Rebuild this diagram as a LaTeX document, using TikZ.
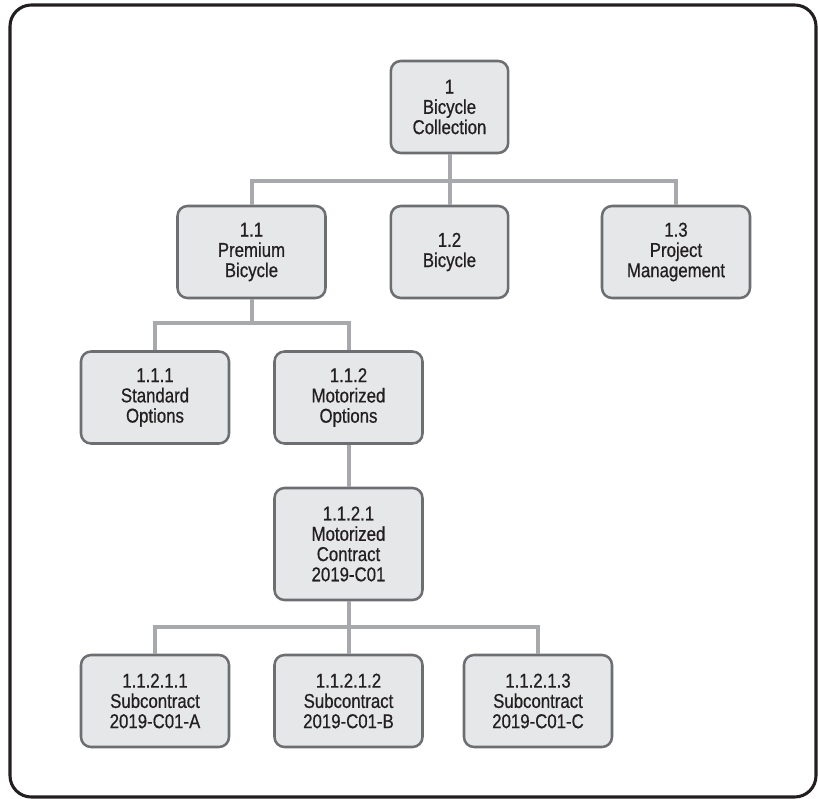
\documentclass[tikz,border=0pt]{standalone}
\usepackage{fontspec}
\setmainfont[FakeStretch=0.84,FakeBold=0.6]{Liberation Sans}
\definecolor{boxfill}{HTML}{E6E7E8}
\definecolor{boxdraw}{HTML}{6D6E71}
\definecolor{conncol}{HTML}{A7A9AC}
\definecolor{framecol}{HTML}{231F20}
\definecolor{textcol}{HTML}{231F20}
\begin{document}
\begin{tikzpicture}[x=0.75pt,y=-0.75pt,
  wbs/.style={draw=boxdraw, fill=boxfill, line width=1.9pt, rounded corners=7.5pt,
    align=center, inner sep=0pt, text=textcol, font=\fontsize{15}{15.2}\selectfont,
    minimum height=69pt},
  wide/.style={wbs, minimum width=111pt},
  narrow/.style={wbs, minimum width=88pt},
  conn/.style={draw=conncol, line width=3pt}]
\useasboundingbox (0,0) rectangle (818,799);
\draw[framecol, line width=2.3pt, rounded corners=16pt] (10,5) rectangle (816,797);
% bus levels
\coordinate (b1) at (0,181);
\coordinate (b2) at (0,323);
\coordinate (b3) at (0,627);
% nodes
\node[narrow] (n1) at (449.5,107) {1\\Bicycle\\Collection};
\node[wide] (n11) at (251.5,252) {1.1\\Premium\\Bicycle};
\node[narrow] (n12) at (449.5,252) {1.2\\Bicycle};
\node[wide] (n13) at (676,252) {1.3\\Project\\Management};
\node[wide] (n111) at (155,397.5) {1.1.1\\Standard\\Options};
\node[wide] (n112) at (348.5,397.5) {1.1.2\\Motorized\\Options};
\node[wide, minimum height=84pt] (n1121) at (348.5,544) {1.1.2.1\\Motorized\\Contract\\2019-C01};
\node[wide] (n11211) at (155,701) {1.1.2.1.1\\Subcontract\\2019-C01-A};
\node[wide] (n11212) at (348.5,701) {1.1.2.1.2\\Subcontract\\2019-C01-B};
\node[wide] (n11213) at (538,701) {1.1.2.1.3\\Subcontract\\2019-C01-C};
% connectors
\draw[conn] (n1.south) -- (n1.south |- b1) -| (n11.north);
\draw[conn] (n1.south) -- (n1.south |- b1) -| (n13.north);
\draw[conn] (n1.south) -- (n12.north);
\draw[conn] (n11.south) -- (n11.south |- b2) -| (n111.north);
\draw[conn] (n11.south) -- (n11.south |- b2) -| (n112.north);
\draw[conn] (n112.south) -- (n1121.north);
\draw[conn] (n1121.south) -- (n1121.south |- b3) -| (n11211.north);
\draw[conn] (n1121.south) -- (n1121.south |- b3) -| (n11213.north);
\draw[conn] (n1121.south) -- (n11212.north);
\end{tikzpicture}
\end{document}
